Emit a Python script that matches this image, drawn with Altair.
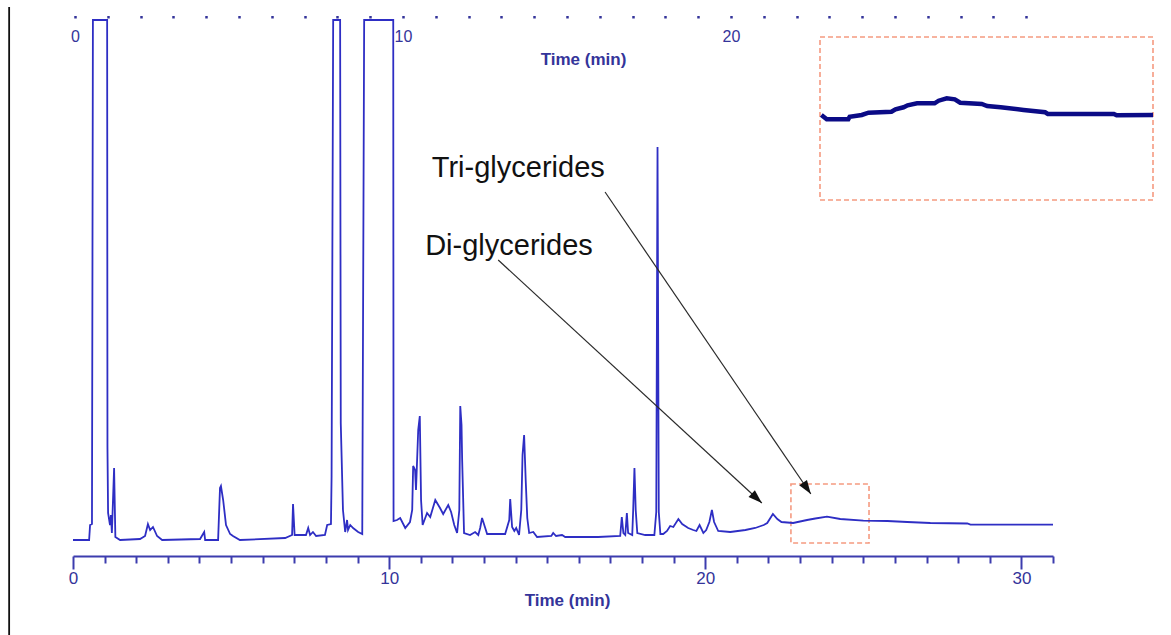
import math
import altair as alt
import pandas as pd

# ---------------- data ----------------
time_min = [
    0.00, 0.51, 0.54, 0.60, 0.63, 1.08, 1.09, 1.11, 1.17, 1.20, 1.23, 1.30, 1.34, 1.49, 2.12, 2.28, 2.37, 2.44, 2.53, 2.66, 2.82,
    4.02, 4.15, 4.18, 4.59, 4.65, 4.68, 4.75, 4.84, 4.97, 5.06, 5.28, 6.71, 6.93, 6.96, 7.01, 7.37, 7.44, 7.50, 7.59, 7.69, 7.97,
    8.04, 8.16, 8.18, 8.23, 8.45, 8.47, 8.54, 8.61, 8.67, 8.70, 8.77, 8.86, 9.02, 9.15, 9.21, 10.13, 10.14, 10.25, 10.35, 10.51, 10.66,
    10.73, 10.76, 10.82, 10.85, 10.92, 10.97, 11.01, 11.06, 11.20, 11.30, 11.46, 11.61, 11.71, 11.87, 11.96, 12.06, 12.15, 12.22, 12.25, 12.29, 12.31, 12.37,
    12.56, 12.72, 12.82, 12.88, 12.94, 13.04, 13.10, 13.67, 13.80, 13.83, 13.89, 13.96, 14.02, 14.11, 14.18, 14.22, 14.27, 14.32, 14.37, 14.43, 14.56, 14.68,
    15.13, 15.19, 15.28, 15.47, 15.57, 16.04, 16.61, 17.31, 17.36, 17.41, 17.47, 17.52, 17.56, 17.69, 17.72, 17.76, 17.80, 17.85, 18.10, 18.39,
    18.45, 18.49, 18.53, 18.58, 18.67, 18.79, 18.89, 18.99, 19.15, 19.27, 19.46, 19.62, 19.72, 19.82, 19.94, 20.03, 20.13, 20.21, 20.28, 20.41, 20.79,
    21.27, 21.58, 21.85, 21.96, 22.14, 22.28, 22.41, 22.78, 23.22, 23.48, 23.85, 24.27, 25.00, 25.76, 26.39, 27.12, 28.29, 28.39, 31.00,
]
signal = [
    0, 0, 15, 16, 520, 520, 93, 27, 15, 25, 7, 72, 3, 0, 1, 4, 16, 10, 13, 4, 0,
    1, 8, 0, 0, 52, 54, 40, 15, 6, 4, 0, 2, 5, 36, 5, 5, 12, 5, 8, 4, 5,
    15, 16, 64, 520, 520, 117, 30, 8, 20, 10, 15, 12, 8, 6, 520, 520, 19, 20, 22, 12, 18,
    30, 74, 70, 50, 110, 124, 40, 15, 27, 23, 40, 32, 26, 35, 28, 15, 7, 30, 134, 115, 80, 7,
    5, 8, 5, 12, 22, 12, 6, 6, 20, 41, 13, 9, 12, 5, 30, 85, 105, 60, 22, 7, 8, 3,
    4, 7, 4, 5, 3, 3, 3, 4, 23, 7, 5, 27, 7, 5, 30, 72, 30, 7, 5, 5,
    28, 393, 28, 6, 6, 9, 14, 13, 21, 16, 12, 10, 9, 15, 7, 10, 18, 30, 18, 9, 8,
    10, 12, 15, 17, 26, 21, 18, 17, 20, 21.5, 23.3, 21, 19.3, 19, 18, 17, 16.5, 15.3, 15.3,
]

# magnified view of the 22.7-25.2 min region (inset)
inset_time = [22.73, 22.77, 22.93, 22.94, 23.03, 23.08, 23.25, 23.28, 23.34, 23.37, 23.44, 23.57, 23.60,
              23.66, 23.72, 23.76, 23.92, 23.96, 24.06, 24.23, 24.39, 24.41, 24.90, 24.92, 25.19]
inset_signal = [85, 80.7, 80.7, 83.3, 85, 87.3, 88.3, 90.7, 92.7, 94.7, 96.7, 96.7, 99.3,
                101.7, 100.7, 97.3, 96, 94, 92.7, 90, 87.7, 86, 86, 84.7, 85]

labels = ["Tri-glycerides", "Di-glycerides"]
label_time = [11.35, 11.14]
label_signal = [363, 285]
arrow_from_time = [16.83, 13.45]
arrow_from_signal = [348, 280]
arrow_to_time = [23.34, 21.79]
arrow_to_signal = [46, 37]

box_time = [22.71, 25.18]
box_signal = [-3, 56]
inset_box_time = [22.72, 25.19]
inset_box_signal = [0, 163]
frame_time = [-2.02]
frame_signal = [-95, 533]

bottom_ticks = list(range(0, 32))
top_ticks = list(range(0, 30))

# ---------------- layout / style ----------------
W, H = 980, 538
XDOM = [0, 31]
YDOM = [-16, 522]
TOP_XDOM = [-0.061, 29.82]

TRACE = "#2e2ec4"
AXIS = "#3c3cae"
LABEL = "#34349a"
INSET = "#0b0b86"
BOX = "#f59a80"
FONT = "Liberation Sans"

bottom_axis = alt.Axis(
    values=bottom_ticks,
    labelExpr="datum.value % 10 === 0 ? datum.label : ''",
    grid=False,
    domainColor=AXIS, domainWidth=2,
    tickColor=AXIS, tickWidth=2,
    tickSize={"condition": {"test": "datum.value % 10 === 0", "value": 13}, "value": 7},
    labelFont=FONT, labelFontSize=17, labelColor=LABEL, labelPadding=1,
    labelFlush=False, labelOverlap=False,
    title="Time (min)", titleFont=FONT, titleFontSize=17, titleFontWeight="bold",
    titleColor=LABEL, titleX=494, titleY=49, titleBaseline="alphabetic", titleAlign="center",
)

xs = alt.Scale(domain=XDOM, nice=False, zero=False)
ys = alt.Scale(domain=YDOM, nice=False, zero=False)


def X(field):
    return alt.X(f"{field}:Q", scale=xs, axis=bottom_axis, title="Time (min)")


def Y(field):
    return alt.Y(f"{field}:Q", scale=ys, axis=None)


trace_df = pd.DataFrame({"t": time_min, "s": signal})
trace = alt.Chart(trace_df).mark_line(color=TRACE, strokeWidth=1.8, clip=True).encode(
    x=X("t"), y=Y("s"), order="t:Q")

frame_df = pd.DataFrame({"t": frame_time, "s": [frame_signal[0]], "s2": [frame_signal[1]]})
frame = alt.Chart(frame_df).mark_rule(color="#111111", strokeWidth=1.8).encode(
    x=X("t"), y=Y("s"), y2="s2:Q")

box_df = pd.DataFrame({"t": [box_time[0]], "t2": [box_time[1]],
                       "s": [box_signal[0]], "s2": [box_signal[1]]})
small_box = alt.Chart(box_df).mark_rect(
    fillOpacity=0, stroke=BOX, strokeWidth=1.6, strokeDash=[5, 3]).encode(
    x=X("t"), x2="t2:Q", y=Y("s"), y2="s2:Q")

arrow_df = pd.DataFrame({"t": arrow_from_time, "s": arrow_from_signal,
                         "t2": arrow_to_time, "s2": arrow_to_signal})
arrows = alt.Chart(arrow_df).mark_rule(color="#2a2a2a", strokeWidth=1.2).encode(
    x=X("t"), y=Y("s"), x2="t2:Q", y2="s2:Q")

px_per_min = W / (XDOM[1] - XDOM[0])
px_per_unit = H / (YDOM[1] - YDOM[0])
angles = []
for t1, s1, t2, s2 in zip(arrow_from_time, arrow_from_signal, arrow_to_time, arrow_to_signal):
    dx = (t2 - t1) * px_per_min
    dy_screen = -(s2 - s1) * px_per_unit
    angles.append(math.degrees(math.atan2(dx, -dy_screen)) % 360)

head_df = pd.DataFrame({"t": arrow_to_time, "s": arrow_to_signal, "ang": angles})
heads = alt.Chart(head_df).mark_point(
    shape="M0,0 L0.34,1 L-0.34,1 Z", filled=True, color="#111111",
    size=760, opacity=1, strokeWidth=0).encode(
    x=X("t"), y=Y("s"), angle=alt.Angle("ang:Q", scale=None))

text_df = pd.DataFrame({"t": label_time, "s": label_signal, "label": labels})
texts = alt.Chart(text_df).mark_text(
    align="left", baseline="alphabetic", font=FONT, fontSize=29, color="#111111").encode(
    x=X("t"), y=Y("s"), text="label:N")

main = alt.layer(frame, small_box, trace, arrows, heads, texts)

# inset (magnified region) with its own scales
ixs = alt.Scale(domain=inset_box_time, range=[747, 1080], nice=False, zero=False)
iys = alt.Scale(domain=inset_box_signal, range=[182, 19], nice=False, zero=False)
ibox_df = pd.DataFrame({"t": [inset_box_time[0]], "t2": [inset_box_time[1]],
                        "s": [inset_box_signal[0]], "s2": [inset_box_signal[1]]})
inset_box = alt.Chart(ibox_df).mark_rect(
    fill="white", stroke=BOX, strokeWidth=1.6, strokeDash=[5, 3]).encode(
    x=alt.X("t:Q", scale=ixs, axis=None), x2="t2:Q",
    y=alt.Y("s:Q", scale=iys, axis=None), y2="s2:Q")
inset_df = pd.DataFrame({"t": inset_time, "s": inset_signal})
inset_line = alt.Chart(inset_df).mark_line(color=INSET, strokeWidth=4.5).encode(
    x=alt.X("t:Q", scale=ixs, axis=None),
    y=alt.Y("s:Q", scale=iys, axis=None), order="t:Q")
inset = alt.layer(inset_box, inset_line)

# the second (top) time axis, partly visible
top_df = pd.DataFrame({"t": top_ticks})
top_axis = alt.Axis(
    orient="top", values=top_ticks,
    labelExpr="datum.value % 10 === 0 ? datum.label : ''",
    grid=False, domain=False,
    tickColor=LABEL, tickWidth=2.5, tickSize=2.5,
    labelFont=FONT, labelFontSize=16, labelColor=LABEL,
    labelBaseline="alphabetic", labelPadding=-26, labelFlush=False, labelOverlap=False,
    title="Time (min)", titleFont=FONT, titleFontSize=17, titleFontWeight="bold",
    titleColor=LABEL, titleX=510, titleY=46, titleBaseline="alphabetic", titleAlign="center",
)
top = alt.Chart(top_df).mark_point(opacity=0).encode(
    x=alt.X("t:Q", scale=alt.Scale(domain=TOP_XDOM, nice=False, zero=False), axis=top_axis))

chart = (
    alt.layer(main, inset, top)
    .resolve_scale(x="independent", y="independent")
    .properties(
        width=W, height=H,
        padding={"left": 73, "top": 18, "right": 118, "bottom": 79},
        autosize=alt.AutoSizeParams(type="none"),
        background="white",
    )
    .configure_view(stroke=None)
)

chart.save("out.html", embed_options={"renderer": "svg", "actions": False})
